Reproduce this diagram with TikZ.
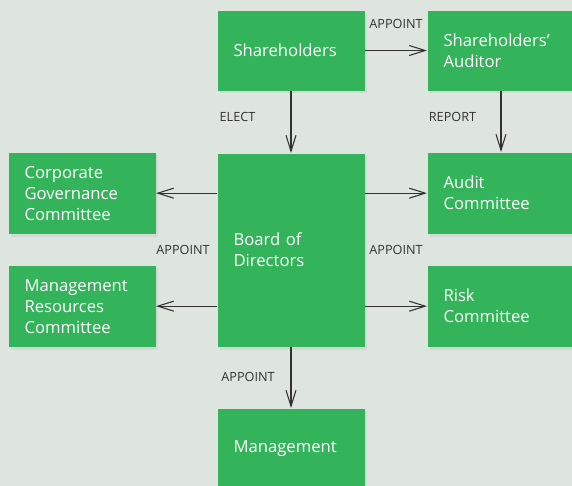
\documentclass[tikz,border=0pt]{standalone}
\usepackage{fontspec}
\setmainfont{Open Sans}
\usetikzlibrary{arrows.meta,shadows}

\definecolor{boxgreen}{RGB}{52,180,90}
\definecolor{pagebg}{RGB}{222,229,223}
\definecolor{lblgrey}{RGB}{50,50,50}

\tikzset{every picture/.style={line width=0.75pt}}
\tikzset{
  orgbox/.style={fill=boxgreen, draw=none, text=white, anchor=north west,
    minimum width=110.25pt, text width=86.25pt, inner xsep=12pt,
    align=left, font=\fontsize{12.5}{15.75}\selectfont,
    drop shadow={opacity=0.12, shadow xshift=2pt, shadow yshift=-2pt}},
  lbl/.style={text=lblgrey, font=\fontsize{9.5}{11}\selectfont, inner sep=0pt},
  arr/.style={draw=lblgrey, line width=0.9pt, -{Straight Barb[length=12pt,width=7.5pt,line width=0.8pt]}}
}

\begin{document}
\begin{tikzpicture}[x=0.75pt,y=0.75pt,yscale=-1,xscale=1]
	\useasboundingbox[fill=pagebg] (0,0) rectangle (572,486);

	%Shape: Rectangle [top row]
	\node[orgbox, minimum height=60pt] (sh) at (217,10) {Shareholders};
	\node[orgbox, minimum height=60pt] (aud) at (427,10) {Shareholders’\\Auditor};
	%Shape: Rectangle [middle]
	\node[orgbox, minimum height=145pt] (board) at (217,153) {Board of\\Directors};
	\node[orgbox, minimum height=61pt] (cgc) at (8,152) {Corporate\\Governance\\Committee};
	\node[orgbox, minimum height=61pt] (mrc) at (8,265) {Management\\Resources\\Committee};
	\node[orgbox, minimum height=61pt] (audc) at (427,152) {Audit\\Committee};
	\node[orgbox, minimum height=61pt] (risk) at (427,265) {Risk\\Committee};
	%Shape: Rectangle [bottom]
	\node[orgbox, minimum height=60pt] (mgmt) at (217,408) {Management};

	%Straight Lines
	\draw[arr] (sh) -- (aud);
	\draw[arr] (sh) -- (board);
	\draw[arr] (aud) -- (audc);
	\draw[arr] (board.west |- cgc.east) -- (cgc.east);
	\draw[arr] (board.west |- mrc.east) -- (mrc.east);
	\draw[arr] (board.east |- audc.west) -- (audc.west);
	\draw[arr] (board.east |- risk.west) -- (risk.west);
	\draw[arr] (board) -- (mgmt);

	% Text Node
	\node[lbl] (tapp1) at (396,24) {APPOINT};
	% Text Node
	\node[lbl] (telect) at (237.5,117) {ELECT};
	% Text Node
	\node[lbl] (treport) at (452.5,117) {REPORT};
	% Text Node
	\node[lbl] (tapp2) at (183,250) {APPOINT};
	% Text Node
	\node[lbl] (tapp3) at (396,250) {APPOINT};
	% Text Node
	\node[lbl] (tapp4) at (248,377) {APPOINT};

\end{tikzpicture}
\end{document}
